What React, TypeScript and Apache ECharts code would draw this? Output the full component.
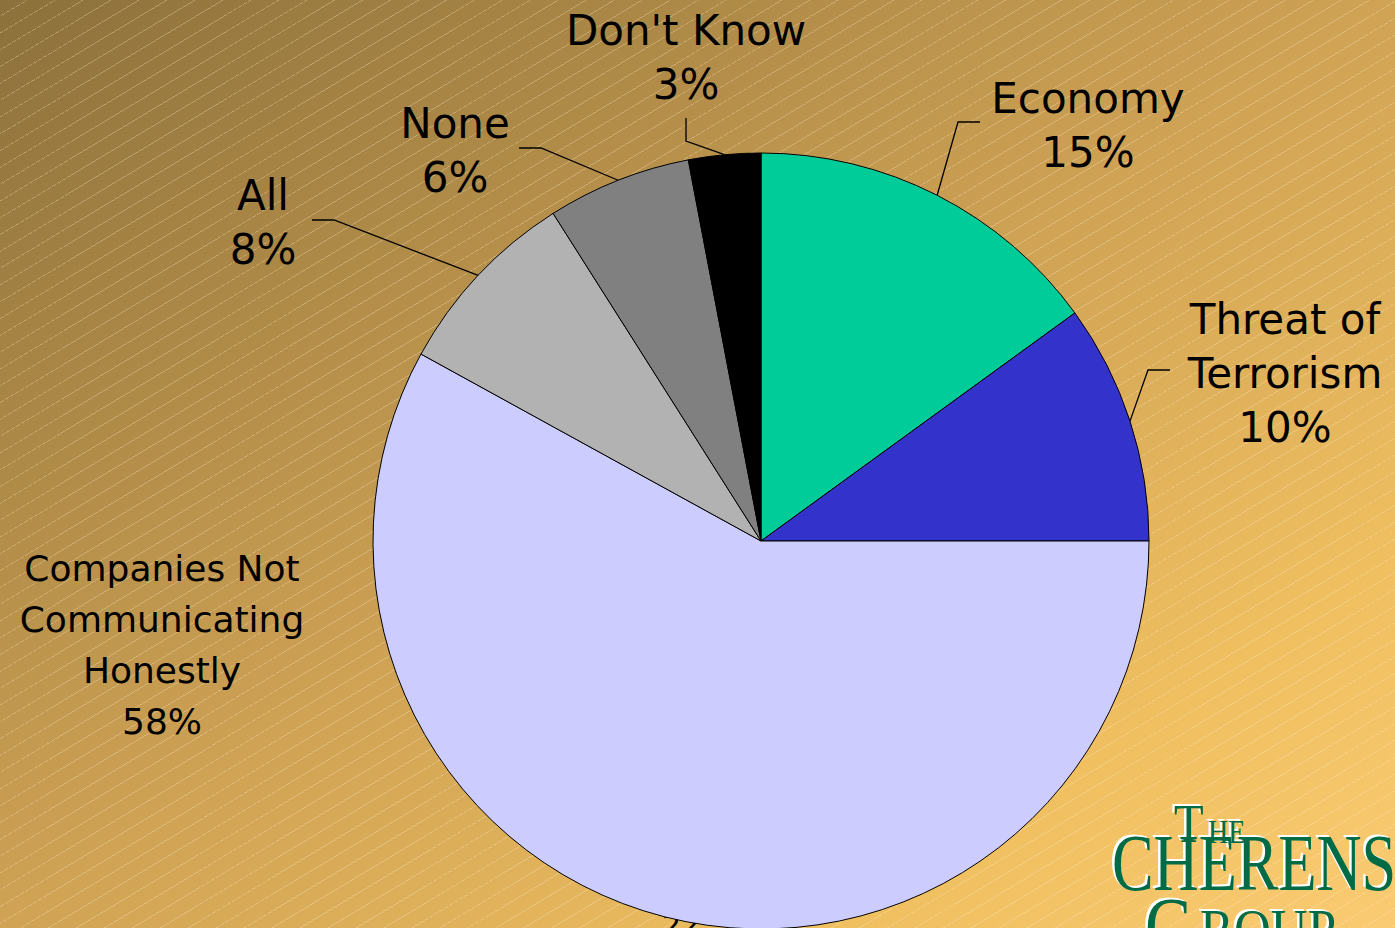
import React, { useEffect, useRef } from "react";
import * as echarts from "echarts";

const categories = [
  "Economy",
  "Threat of\nTerrorism",
  "Companies Not\nCommunicating\nHonestly",
  "All",
  "None",
  "Don't Know",
];
const shares = [15, 10, 58, 8, 6, 3];
const sliceColors = ["#00CC99", "#3333CC", "#CCCCFF", "#B2B2B2", "#808080", "#000000"];
const slideNumber = "22";

// label placement (layout only)
const labelSpots: { x: number; y: number; bend: number[] | null; end: number[] | null }[] = [
  { x: 1088, y: 125, bend: [958, 122], end: [980, 122] },
  { x: 1285, y: 373, bend: [1148, 370], end: [1170, 370] },
  { x: 162, y: 645, bend: null, end: null },
  { x: 263, y: 222, bend: [334, 220], end: [312, 220] },
  { x: 455, y: 150, bend: [541, 148], end: [519, 148] },
  { x: 686, y: 57, bend: [686, 141], end: [686, 118] },
];

const CX = 761;
const CY = 541;
const R = 388;

function edgePoint(index: number): number[] {
  const total = shares.reduce((a, b) => a + b, 0);
  let before = 0;
  for (let i = 0; i < index; i++) before += shares[i];
  const mid = before + shares[index] / 2;
  const ang = (90 - (mid / total) * 360) * (Math.PI / 180);
  return [CX + R * Math.cos(ang), CY - R * Math.sin(ang)];
}

const green = "#006B45";
const logoFont = '"Liberation Serif", "DejaVu Serif", serif';

function logoText(text: string, x: number, y: number, size: number, sx: number) {
  return [
    {
      type: "text",
      x: x - 2.5,
      y: y - 2,
      scaleX: sx,
      z: 1,
      style: { text, fill: "#ffffff", font: `${size}px ${logoFont}`, verticalAlign: "middle", align: "left" },
    },
    {
      type: "text",
      x,
      y,
      scaleX: sx,
      z: 2,
      style: { text, fill: green, font: `${size}px ${logoFont}`, verticalAlign: "middle", align: "left" },
    },
  ];
}

export default function App() {
  const ref = useRef<HTMLDivElement>(null);

  useEffect(() => {
    if (!ref.current) return;
    const chart = echarts.init(ref.current, undefined, { renderer: "svg" });

    const data = categories.map((name, i) => ({
      name,
      value: shares[i],
      itemStyle: { color: sliceColors[i] },
      labelLine: { show: labelSpots[i].bend !== null },
      label: i === 2 ? { fontSize: 36, lineHeight: 51 } : undefined,
    }));

    const option: any = {
      animation: false,
      backgroundColor: "transparent",
      graphic: [
        {
          type: "text",
          x: 662,
          y: 910,
          z: 0,
          style: { text: slideNumber, fill: "#000", font: '30px "DejaVu Sans", sans-serif', verticalAlign: "top" },
        },
        ...logoText("CHERENSON", 1112, 863, 80, 0.78),
        ...logoText("T", 1174, 824, 54, 0.9),
        ...logoText("HE", 1208, 832, 33, 0.85),
        ...logoText("G", 1145, 926, 80, 0.85),
        ...logoText("ROUP", 1200, 930, 60, 0.85),
      ],
      series: [
        {
          type: "pie",
          center: [CX, CY],
          radius: R,
          startAngle: 90,
          clockwise: true,
          avoidLabelOverlap: false,
          emphasis: { scale: false },
          z: 3,
          itemStyle: { borderColor: "#000", borderWidth: 1 },
          label: {
            show: true,
            position: "outside",
            formatter: "{b}\n{c}%",
            color: "#000",
            fontFamily: '"DejaVu Sans", Verdana, sans-serif',
            fontSize: 42,
            lineHeight: 54,
            align: "center",
          },
          labelLine: { show: true, length: 20, length2: 20, lineStyle: { color: "#000", width: 1.3 } },
          labelLayout: (p: any) => {
            const s = labelSpots[p.dataIndex];
            const out: any = { x: s.x, y: s.y, align: "center", verticalAlign: "middle" };
            if (s.bend && s.end) {
              out.labelLinePoints = [edgePoint(p.dataIndex), s.bend, s.end];
            }
            return out;
          },
          data,
        },
      ],
    };

    chart.setOption(option);
    return () => chart.dispose();
  }, []);

  return (
    <div
      ref={ref}
      style={{
        position: "absolute",
        left: 0,
        top: 0,
        width: 1395,
        height: 928,
        overflow: "hidden",
        background:
          "repeating-linear-gradient(149deg, rgba(255,240,205,0) 0px, rgba(255,240,205,0) 13.6px, rgba(255,240,205,0.3) 13.6px, rgba(255,240,205,0.3) 14.4px), linear-gradient(to bottom right, #8c713c 0%, #ad8947 25%, #d0a355 50%, #efbf60 80%, #facb72 100%)",
      }}
    />
  );
}
